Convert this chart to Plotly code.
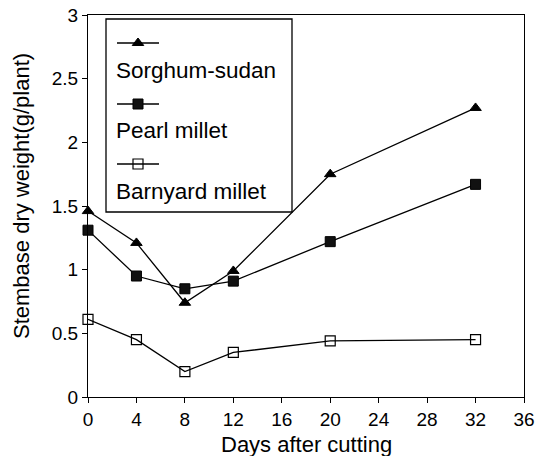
import plotly.graph_objects as go

days = [0, 4, 8, 12, 20, 32]
sorghum_sudan = [1.46, 1.21, 0.74, 0.99, 1.75, 2.27]
pearl_millet = [1.31, 0.95, 0.85, 0.91, 1.22, 1.67]
barnyard_millet = [0.61, 0.45, 0.20, 0.35, 0.44, 0.45]
series_names = ["Sorghum-sudan", "Pearl millet", "Barnyard millet"]
x_ticks = [0, 4, 8, 12, 16, 20, 24, 28, 32, 36]
y_ticks = [0, 0.5, 1, 1.5, 2, 2.5, 3]
y_tick_labels = ["0", "0.5", "1", "1.5", "2", "2.5", "3"]
x_title = "Days after cutting"
y_title = "Stembase dry weight(g/plant)"

FONT = "Liberation Sans, Arial, sans-serif"
OFF = 8  # default body margin of the page
PAGE_W, PAGE_H = 545, 456
W, H = PAGE_W - OFF, PAGE_H - OFF
# plot area in page pixels
PX0, PX1 = 88, 524
PY0, PY1 = 15, 397
PW, PH = PX1 - PX0, PY1 - PY0
L, T = PX0 - OFF, PY0 - OFF
R, B = W - (PX1 - OFF), H - (PY1 - OFF)

styles = [
    dict(symbol="triangle-up", size=10, color="black", line=dict(color="black", width=1)),
    dict(symbol="square", size=10, color="#111", line=dict(color="black", width=1)),
    dict(symbol="square-open", size=10, color="black", line=dict(color="black", width=1.2)),
]

fig = go.Figure()
for vals, name, st in zip([sorghum_sudan, pearl_millet, barnyard_millet], series_names, styles):
    fig.add_trace(go.Scatter(
        x=days, y=vals, name=name, mode="lines+markers",
        line=dict(color="black", width=1.3), marker=st, showlegend=False,
        cliponaxis=False,
    ))

# custom legend (page pixel coordinates on overlay axes)
leg_line_y = [43, 104, 164]
leg_text_y = [70, 130, 191]
for ly, ty, name, st in zip(leg_line_y, leg_text_y, series_names, styles):
    fig.add_trace(go.Scatter(
        x=[117, 159], y=[ly, ly], xaxis="x2", yaxis="y2", mode="lines",
        line=dict(color="black", width=1.3), showlegend=False, hoverinfo="skip",
    ))
    fig.add_trace(go.Scatter(
        x=[138], y=[ly], xaxis="x2", yaxis="y2", mode="markers",
        marker=st, showlegend=False, hoverinfo="skip",
    ))
    fig.add_annotation(
        x=114, y=ty, xref="x2", yref="y2", text=name, showarrow=False,
        xanchor="left", yanchor="middle", font=dict(family=FONT, size=22.5, color="black"),
    )
fig.add_shape(type="rect", x0=106, x1=292, y0=19, y1=212, xref="x2", yref="y2",
              line=dict(color="black", width=1.3), fillcolor="rgba(0,0,0,0)")

# axis titles
fig.add_annotation(x=0.5, y=(PY1 - 445) / PH, xref="paper", yref="paper", text=x_title,
                   showarrow=False, xanchor="center", yanchor="middle",
                   font=dict(family=FONT, size=22, color="black"))
fig.add_annotation(x=(21 - PX0) / PW, y=(PY1 - 196) / PH, xref="paper", yref="paper", text=y_title,
                   showarrow=False, xanchor="center", yanchor="middle", textangle=-90,
                   font=dict(family=FONT, size=22, color="black"))

axis_common = dict(
    showgrid=False, zeroline=False, showline=True, linecolor="black", linewidth=1.3,
    mirror=True, ticks="outside", ticklen=5, tickwidth=1.2, tickcolor="black",
    tickfont=dict(family=FONT, size=19, color="black"), automargin=False,
    ticklabeloverflow="allow",
)
fig.update_layout(
    width=W, height=H,
    margin=dict(l=L, r=R, t=T, b=B, pad=0),
    paper_bgcolor="white", plot_bgcolor="white",
    font=dict(family=FONT, color="black"),
    xaxis=dict(range=[0, 36], tickvals=x_ticks, ticktext=[str(v) for v in x_ticks], **axis_common),
    yaxis=dict(range=[0, 3], tickvals=y_ticks, ticktext=y_tick_labels, **axis_common),
    xaxis2=dict(range=[PX0, PX1], overlaying="x", visible=False, fixedrange=True),
    yaxis2=dict(range=[PY1, PY0], overlaying="y", visible=False, fixedrange=True),
)

fig.write_html("out.html")
